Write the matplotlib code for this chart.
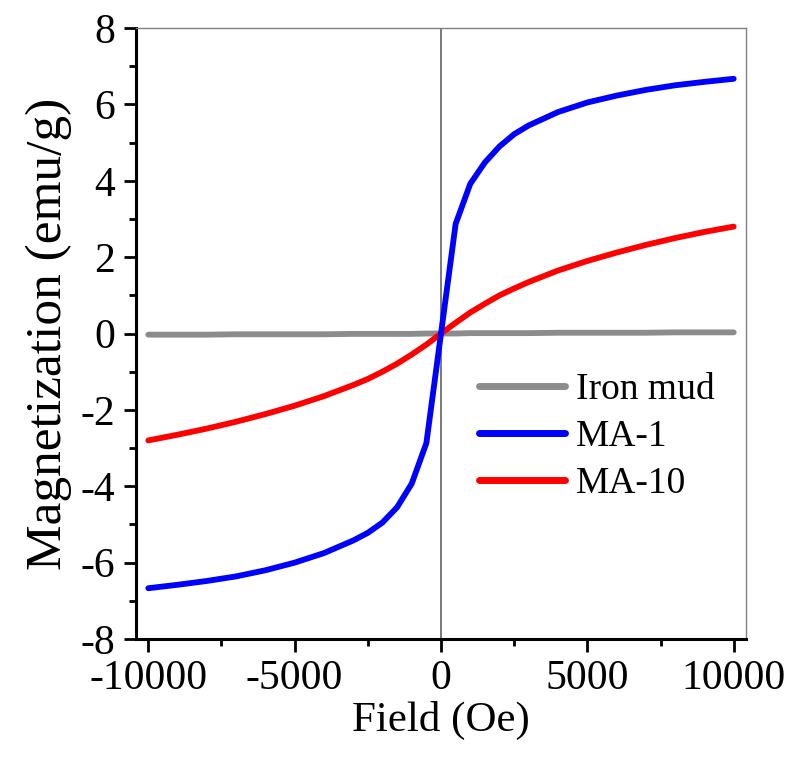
import matplotlib
matplotlib.use("Agg")
import matplotlib.pyplot as plt
from matplotlib.ticker import MultipleLocator

plt.rcParams['font.family'] = ['Liberation Serif', 'DejaVu Serif']
plt.rcParams['axes.unicode_minus'] = False

# field (Oe)
field = [-10000, -9000, -8000, -7000, -6000, -5000, -4000, -3000, -2500, -2000,
         -1500, -1000, -500, 0, 500, 1000, 1500, 2000, 2500, 3000, 4000,
         5000, 6000, 7000, 8000, 9000, 10000]

# magnetization (emu/g)
iron_mud = [-0.03, -0.03, -0.03, -0.02, -0.02, -0.02, -0.02, -0.01, -0.01, -0.01,
            -0.01, -0.01, 0.0, 0.0, 0.0, 0.01, 0.01, 0.01, 0.01, 0.01, 0.02,
            0.02, 0.02, 0.02, 0.03, 0.03, 0.03]
ma_1 = [-6.67, -6.58, -6.48, -6.36, -6.2, -6.0, -5.75, -5.42, -5.22, -4.95,
        -4.55, -3.93, -2.87, 0.0, 2.87, 3.92, 4.48, 4.9, 5.22, 5.45, 5.8,
        6.05, 6.23, 6.38, 6.5, 6.59, 6.67]
ma_10 = [-2.8, -2.65, -2.49, -2.31, -2.11, -1.89, -1.64, -1.35, -1.19, -1.0,
         -0.79, -0.55, -0.29, 0.0, 0.28, 0.55, 0.78, 1.0, 1.18, 1.35, 1.65,
         1.9, 2.12, 2.32, 2.5, 2.66, 2.8]

fig = plt.figure(figsize=(7.88, 7.61), dpi=100)
ax = fig.add_axes([0.1726, 0.1603, 0.7741, 0.8029])

ax.axvline(0, color='#555555', lw=1.1, zorder=1)
ax.plot(field, iron_mud, color='#8c8c8c', lw=4.2, solid_capstyle='round', label='Iron mud', zorder=2)
ax.plot(field, ma_1, color='#0000ff', lw=4.2, solid_capstyle='round', label='MA-1', zorder=4)
ax.plot(field, ma_10, color='#ff0000', lw=4.2, solid_capstyle='round', label='MA-10', zorder=3)

ax.set_xlim(-10420, 10420)
ax.set_ylim(-8, 8)
ax.xaxis.set_major_locator(MultipleLocator(5000))
ax.xaxis.set_minor_locator(MultipleLocator(2500))
ax.yaxis.set_major_locator(MultipleLocator(2))
ax.yaxis.set_minor_locator(MultipleLocator(1))

for s in ['left', 'bottom']:
    ax.spines[s].set_linewidth(2.2)
    ax.spines[s].set_color('black')
for s in ['top', 'right']:
    ax.spines[s].set_linewidth(1.0)
    ax.spines[s].set_color('#808080')

ax.tick_params(which='major', direction='out', length=9, width=2.0, labelsize=30, pad=6,
               top=False, right=False)
ax.tick_params(which='minor', direction='out', length=5, width=2.0, top=False, right=False)

ax.set_xlabel('Field (Oe)', fontsize=31, labelpad=2)
ax.set_ylabel('Magnetization (emu/g)', fontsize=37, labelpad=6)

leg = ax.legend(loc='center left', bbox_to_anchor=(0.562, 0.3305), frameon=False, fontsize=27,
                handlelength=2.3, handletextpad=0.3, labelspacing=0.33, borderpad=0,
                borderaxespad=0)
for h in leg.get_lines():
    h.set_linewidth(5.0)

fig.savefig('out.png', dpi=100)
